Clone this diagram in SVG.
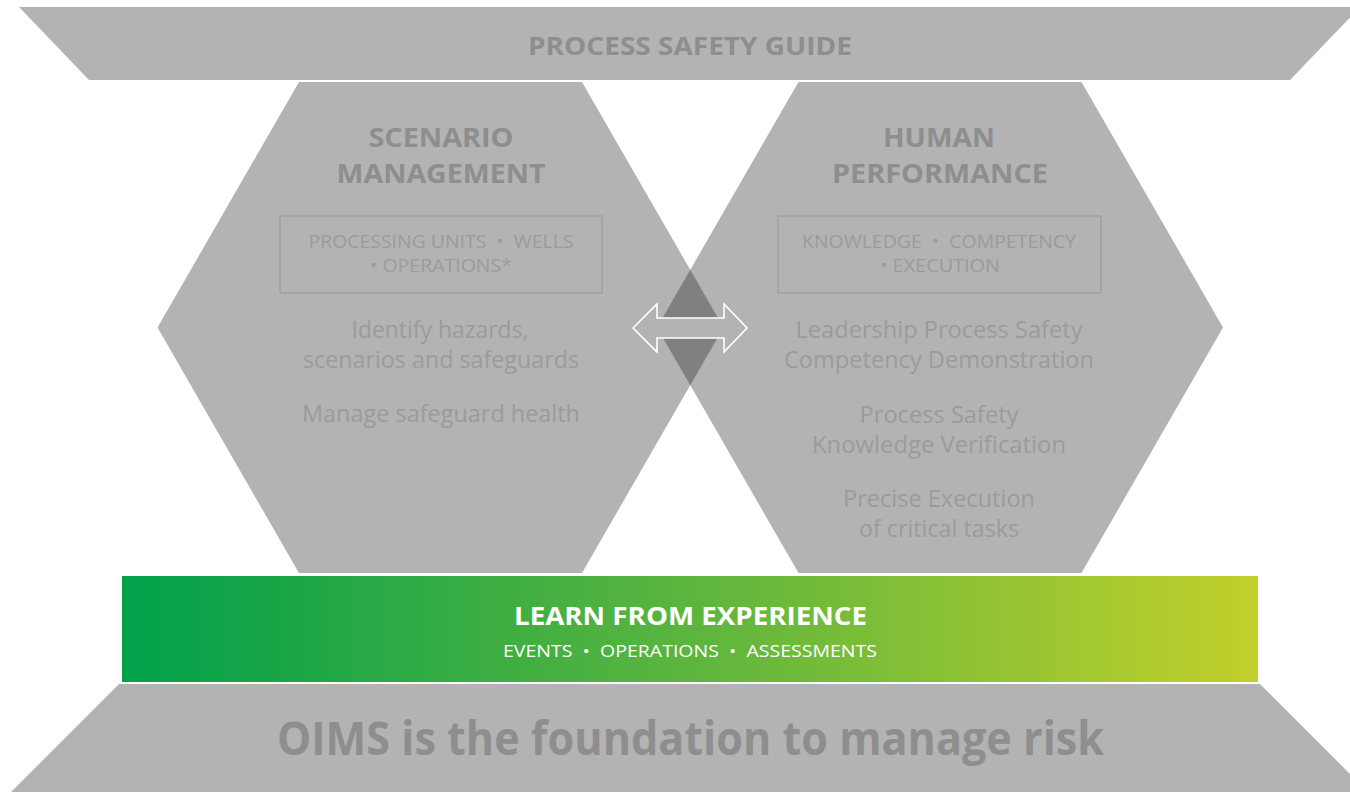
<svg xmlns="http://www.w3.org/2000/svg" width="1350" height="792" viewBox="0 0 1350 792">
<style>
.shape{fill:#b3b3b3}
.overlap{fill:#808080}
.ttl{font-family:"Open Sans","Liberation Sans",sans-serif;font-weight:700;fill:#8e8e8e;text-anchor:middle}
.lbl{font-family:"Open Sans","Liberation Sans",sans-serif;font-weight:400;fill:#9b9b9b;text-anchor:middle;white-space:pre}
.box{fill:none;stroke:#9c9c9c;stroke-width:1.2}
.wt{font-family:"Open Sans","Liberation Sans",sans-serif;fill:#ffffff;text-anchor:middle;white-space:pre}
.arrow{fill:#b3b3b3;stroke:#ffffff;stroke-width:1.6;stroke-linejoin:miter}
</style>
<defs>
<linearGradient id="grn" x1="0" y1="0" x2="1" y2="0">
<stop offset="0" stop-color="#00a04b"/>
<stop offset="0.5" stop-color="#5cb53e"/>
<stop offset="1" stop-color="#c2d02b"/>
</linearGradient>
</defs>
<rect width="1350" height="792" fill="#ffffff"/>

<g id="process-safety-guide">
<polygon class="shape" points="19,7 1360,7 1290,80 89,80"/>
<text class="ttl" x="690" y="55" font-size="25" textLength="324" lengthAdjust="spacingAndGlyphs">PROCESS SAFETY GUIDE</text>
</g>

<g id="scenario-management">
<polygon class="shape" points="723.5,327.5 582,82 299,82 157.5,327.5 299,573 582,573"/>
<text class="ttl" x="441" y="147" font-size="27" textLength="145" lengthAdjust="spacingAndGlyphs">SCENARIO</text>
<text class="ttl" x="441" y="183" font-size="27" textLength="209" lengthAdjust="spacingAndGlyphs">MANAGEMENT</text>
<rect class="box" x="280" y="216" width="322" height="77"/>
<text class="lbl" x="441" y="248" font-size="18" textLength="265" lengthAdjust="spacingAndGlyphs">PROCESSING UNITS  •  WELLS</text>
<text class="lbl" x="441" y="272" font-size="18" textLength="142" lengthAdjust="spacingAndGlyphs">• OPERATIONS*</text>
<text class="lbl" x="440" y="338" font-size="23" textLength="177" lengthAdjust="spacingAndGlyphs">Identify hazards,</text>
<text class="lbl" x="441" y="368" font-size="23" textLength="276" lengthAdjust="spacingAndGlyphs">scenarios and safeguards</text>
<text class="lbl" x="441" y="422" font-size="23" textLength="278" lengthAdjust="spacingAndGlyphs">Manage safeguard health</text>
</g>

<g id="human-performance">
<polygon class="shape" points="1223,327.5 1081.5,82 798.5,82 657,327.5 798.5,573 1081.5,573"/>
<text class="ttl" x="939" y="147" font-size="27" textLength="112" lengthAdjust="spacingAndGlyphs">HUMAN</text>
<text class="ttl" x="940" y="183" font-size="27" textLength="216" lengthAdjust="spacingAndGlyphs">PERFORMANCE</text>
<rect class="box" x="778" y="216" width="323" height="77"/>
<text class="lbl" x="939" y="248" font-size="18" textLength="274" lengthAdjust="spacingAndGlyphs">KNOWLEDGE  •  COMPETENCY</text>
<text class="lbl" x="940" y="272" font-size="18" textLength="120" lengthAdjust="spacingAndGlyphs">• EXECUTION</text>
<text class="lbl" x="939" y="338" font-size="23" textLength="287" lengthAdjust="spacingAndGlyphs">Leadership Process Safety</text>
<text class="lbl" x="939" y="368" font-size="23" textLength="310" lengthAdjust="spacingAndGlyphs">Competency Demonstration</text>
<text class="lbl" x="939" y="423" font-size="23" textLength="159" lengthAdjust="spacingAndGlyphs">Process Safety</text>
<text class="lbl" x="939" y="453" font-size="23" textLength="254" lengthAdjust="spacingAndGlyphs">Knowledge Verification</text>
<text class="lbl" x="939" y="507" font-size="23" textLength="192" lengthAdjust="spacingAndGlyphs">Precise Execution</text>
<text class="lbl" x="939" y="537" font-size="23" textLength="160" lengthAdjust="spacingAndGlyphs">of critical tasks</text>
</g>

<g id="overlap">
<polygon class="overlap" points="690.25,269.8 723.5,327.5 690.25,385.2 657,327.5"/>
</g>

<g id="connectors">
<polygon class="arrow" points="633,328 657,304 657,318 724,318 724,304 747,328 724,352 724,338 657,338 657,352"/>
</g>

<g id="learn-from-experience">
<rect x="122" y="576" width="1136" height="106" fill="url(#grn)"/>
<text class="wt" x="690.5" y="625" font-size="25" font-weight="700" textLength="353" lengthAdjust="spacingAndGlyphs">LEARN FROM EXPERIENCE</text>
<text class="wt" x="690" y="657" font-size="17" font-weight="400" textLength="374" lengthAdjust="spacingAndGlyphs">EVENTS  •  OPERATIONS  •  ASSESSMENTS</text>
</g>

<g id="oims-foundation">
<polygon class="shape" points="119,684 1260,684 1368,792 11,792"/>
<text class="ttl" x="690.5" y="755" font-size="46" textLength="827" lengthAdjust="spacingAndGlyphs">OIMS is the foundation to manage risk</text>
</g>
</svg>
